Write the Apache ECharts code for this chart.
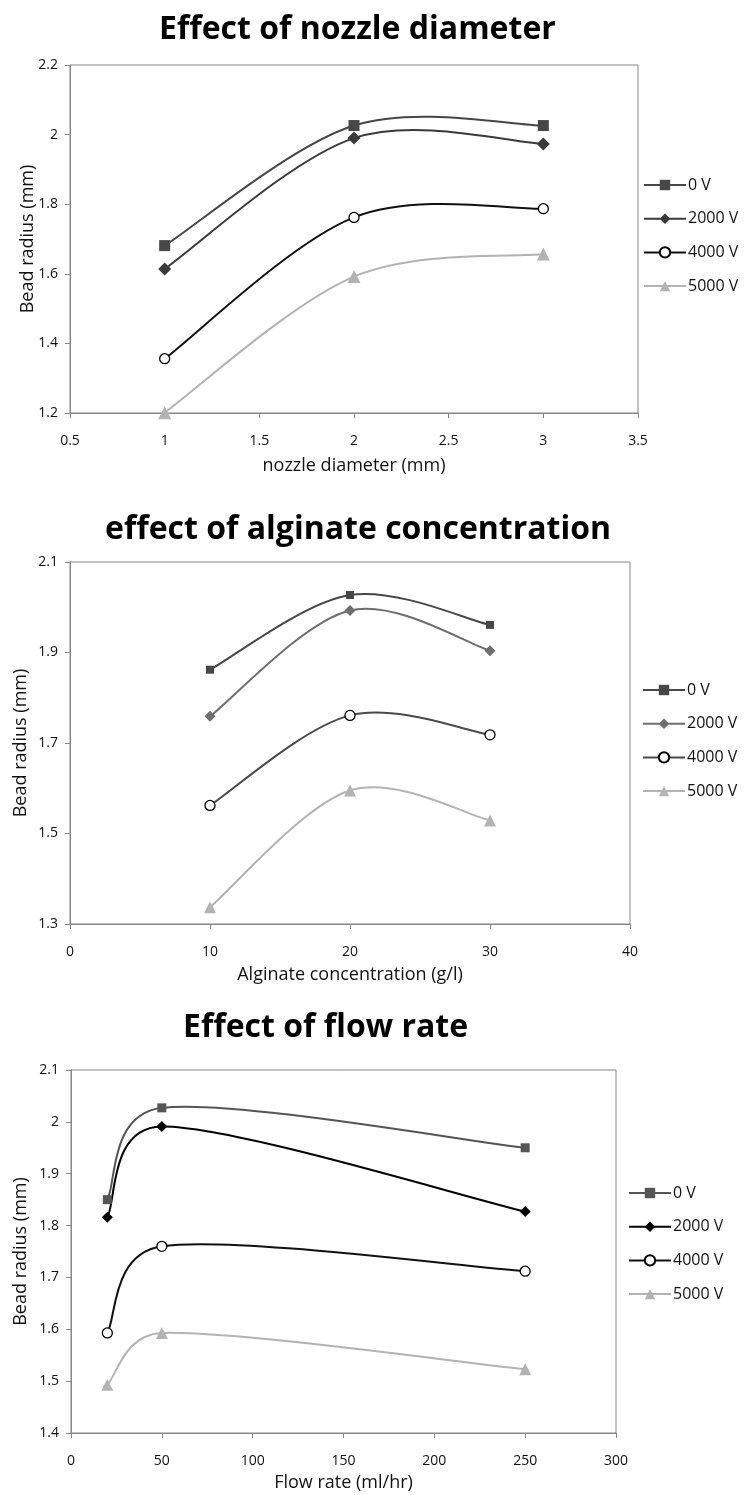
<!DOCTYPE html>
<html><head><meta charset="utf-8">
<script src="https://cdn.jsdelivr.net/npm/echarts@6/dist/echarts.min.js"></script>
<style>html,body{margin:0;padding:0;background:#fff}#c{width:748px;height:1495px}</style>
</head><body><div id="c"></div>
<script>
// ---------- data ----------
const seriesLabels = ['0 V', '2000 V', '4000 V', '5000 V'];

const nozzleX = [1, 2, 3];
const nozzle0V = [1.681, 2.026, 2.026];
const nozzle2000V = [1.614, 1.990, 1.973];
const nozzle4000V = [1.356, 1.762, 1.787];
const nozzle5000V = [1.201, 1.592, 1.657];
const nozzleXTicks = [0.5, 1, 1.5, 2, 2.5, 3, 3.5];
const nozzleYTicks = [1.2, 1.4, 1.6, 1.8, 2, 2.2];

const alginateX = [10, 20, 30];
const alginate0V = [1.862, 2.027, 1.961];
const alginate2000V = [1.759, 1.993, 1.904];
const alginate4000V = [1.562, 1.761, 1.718];
const alginate5000V = [1.337, 1.595, 1.529];
const alginateXTicks = [0, 10, 20, 30, 40];
const alginateYTicks = [1.3, 1.5, 1.7, 1.9, 2.1];

const flowX = [20, 50, 250];
const flow0V = [1.850, 2.027, 1.950];
const flow2000V = [1.816, 1.991, 1.827];
const flow4000V = [1.593, 1.760, 1.712];
const flow5000V = [1.493, 1.593, 1.523];
const flowXTicks = [0, 50, 100, 150, 200, 250, 300];
const flowYTicks = [1.4, 1.5, 1.6, 1.7, 1.8, 1.9, 2, 2.1];

const titles = ['Effect of nozzle diameter', 'effect of alginate concentration', 'Effect of flow rate'];
const xNames = ['nozzle diameter (mm)', 'Alginate concentration (g/l)', 'Flow rate (ml/hr)'];
const yName = 'Bead radius (mm)';

// ---------- styles ----------
const FONT = "'Open Sans', 'Noto Sans', sans-serif";
const AXIS = '#868686';
const TXT = '#111';

const charts = [
  { x: nozzleX, ys: [nozzle0V, nozzle2000V, nozzle4000V, nozzle5000V], xt: nozzleXTicks, yt: nozzleYTicks,
    grid: { left: 70, top: 65, width: 568, height: 348 }, titleLeft: 154, titleTop: 9, legendLeft: 638, legendTop: 172,
    xNameGap: 44, yNameGap: 33,
    colors: ['#474747', '#3a3a3a', '#111111', '#b3b3b3'], sizes: [11, 13, 10, 13] },
  { x: alginateX, ys: [alginate0V, alginate2000V, alginate4000V, alginate5000V], xt: alginateXTicks, yt: alginateYTicks,
    grid: { left: 70, top: 562, width: 560, height: 362 }, titleLeft: 100, titleTop: 509, legendLeft: 637, legendTop: 677,
    xNameGap: 42, yNameGap: 40,
    colors: ['#474747', '#6e6e6e', '#4a4a4a', '#b3b3b3'], sizes: [8, 11, 10, 12] },
  { x: flowX, ys: [flow0V, flow2000V, flow4000V, flow5000V], xt: flowXTicks, yt: flowYTicks,
    grid: { left: 71, top: 1070, width: 545, height: 363 }, titleLeft: 178, titleTop: 1007, legendLeft: 623, legendTop: 1180,
    xNameGap: 41, yNameGap: 41,
    colors: ['#555555', '#000000', '#111111', '#b3b3b3'], sizes: [9, 11, 10, 12] }
];
const symbols = ['rect', 'diamond', 'circle', 'triangle'];

// Excel-style smoothed curve: cubic Bezier, tangents (P[i+1]-P[i-1])/6, capped at half the segment length
function capVec(v, maxLen) {
  const l = Math.hypot(v[0], v[1]);
  if (l > maxLen && l > 0) { const k = maxLen / l; return [v[0] * k, v[1] * k]; }
  return v;
}
function makeCurveRenderer(pts, color) {
  return function (params, api) {
    const i = params.dataIndex;
    if (i >= pts.length - 1) return null;
    const P = pts.map(p => api.coord(p));
    const p0 = P[Math.max(i - 1, 0)], p1 = P[i], p2 = P[i + 1], p3 = P[Math.min(i + 2, P.length - 1)];
    const half = Math.hypot(p2[0] - p1[0], p2[1] - p1[1]) / 2;
    const t1 = capVec([(p2[0] - p0[0]) / 6, (p2[1] - p0[1]) / 6], half);
    const t2 = capVec([(p3[0] - p1[0]) / 6, (p3[1] - p1[1]) / 6], half);
    return {
      type: 'bezierCurve',
      shape: { x1: p1[0], y1: p1[1], cpx1: p1[0] + t1[0], cpy1: p1[1] + t1[1],
               cpx2: p2[0] - t2[0], cpy2: p2[1] - t2[1], x2: p2[0], y2: p2[1] },
      style: { stroke: color, lineWidth: 2, fill: null }
    };
  };
}

const option = { animation: false, backgroundColor: '#fff', title: [], grid: [], xAxis: [], yAxis: [], legend: [], series: [] };

charts.forEach((c, gi) => {
  option.title.push({ text: titles[gi], left: c.titleLeft, top: c.titleTop,
    textStyle: { fontFamily: FONT, fontWeight: 'bold', fontSize: 32, color: '#000' } });
  option.grid.push(Object.assign({ show: true, borderColor: AXIS, borderWidth: 1, backgroundColor: 'transparent' }, c.grid));
  option.xAxis.push({
    type: 'value', gridIndex: gi, min: c.xt[0], max: c.xt[c.xt.length - 1],
    name: xNames[gi], nameLocation: 'middle', nameGap: c.xNameGap, nameMoveOverlap: false,
    nameTextStyle: { fontFamily: FONT, fontSize: 18, color: TXT },
    axisLine: { show: true, onZero: false, lineStyle: { color: AXIS, width: 1 } },
    axisTick: { show: true, length: 5, customValues: c.xt, lineStyle: { color: AXIS } },
    axisLabel: { customValues: c.xt, margin: 21, fontFamily: FONT, fontSize: 14, color: TXT },
    splitLine: { show: false }
  });
  option.yAxis.push({
    type: 'value', gridIndex: gi, min: c.yt[0], max: c.yt[c.yt.length - 1],
    name: yName, nameLocation: 'middle', nameGap: c.yNameGap, nameRotate: 90, nameMoveOverlap: false,
    nameTextStyle: { fontFamily: FONT, fontSize: 18, color: TXT },
    axisLine: { show: true, onZero: false, lineStyle: { color: AXIS, width: 1 } },
    axisTick: { show: true, length: 5, customValues: c.yt, lineStyle: { color: AXIS } },
    axisLabel: { customValues: c.yt, margin: 12, fontFamily: FONT, fontSize: 14, color: TXT },
    splitLine: { show: false }
  });
  const names = seriesLabels.map(l => l + '|' + gi);
  option.legend.push({
    orient: 'vertical', left: c.legendLeft, top: c.legendTop,
    data: names.map((n, si) => ({ name: n, lineStyle: { color: c.colors[si], width: 2, opacity: 1 } })),
    itemWidth: 42, itemHeight: 13, itemGap: 17.7, selectedMode: false,
    formatter: n => n.split('|')[0],
    textStyle: { fontFamily: FONT, fontSize: 16, color: TXT, padding: [0, 0, 0, -3] }
  });
  c.ys.forEach((ys, si) => {
    const col = c.colors[si];
    const isCircle = symbols[si] === 'circle';
    const pts = c.x.map((xv, i) => [xv, ys[i]]);
    // smoothed line
    option.series.push({
      type: 'custom', name: names[si] + '#curve', xAxisIndex: gi, yAxisIndex: gi,
      data: pts, encode: { x: 0, y: 1 }, clip: true, silent: true,
      renderItem: makeCurveRenderer(pts, col), z: 2 + si
    });
    // markers (+ legend entry)
    option.series.push({
      type: 'line', name: names[si], xAxisIndex: gi, yAxisIndex: gi,
      data: pts, symbol: symbols[si], symbolSize: c.sizes[si], showSymbol: true,
      lineStyle: { color: col, width: 2, opacity: 0 },
      itemStyle: isCircle ? { color: '#fff', borderColor: '#000', borderWidth: 1.3 } : { color: col },
      z: 10 + si
    });
  });
});

const chart = echarts.init(document.getElementById('c'), null, { renderer: 'canvas' });
chart.setOption(option);
</script>
</body></html>
